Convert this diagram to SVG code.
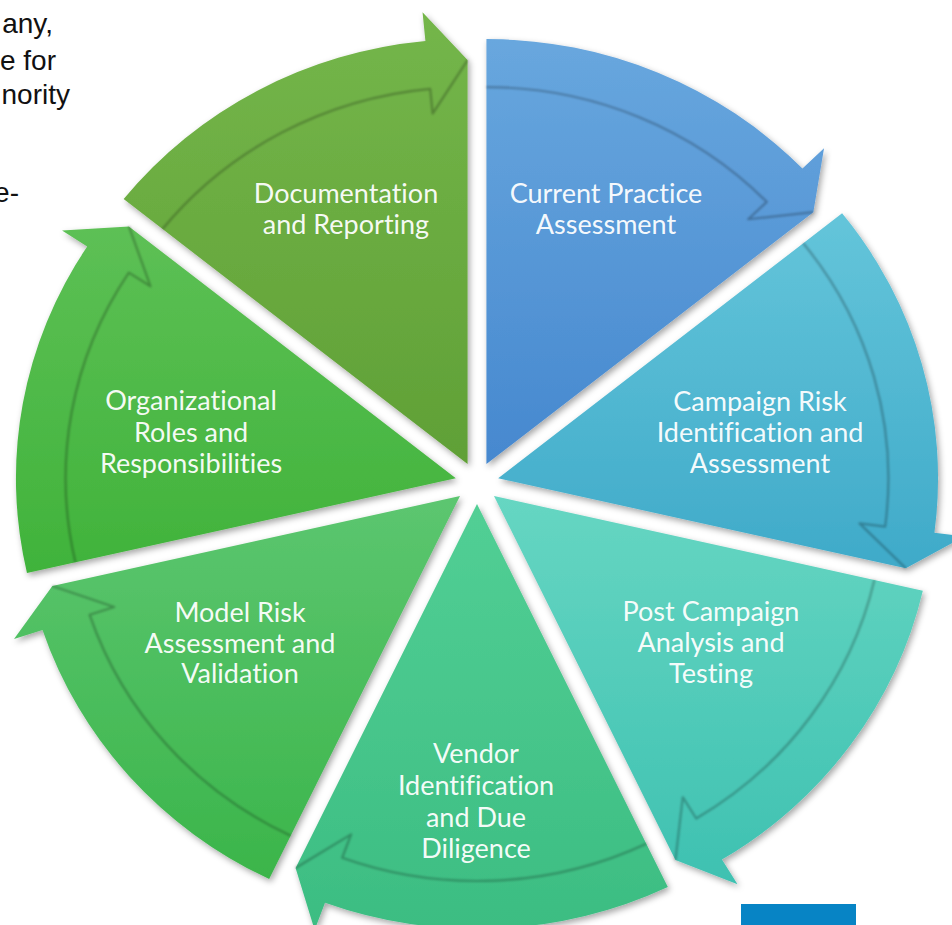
<svg xmlns="http://www.w3.org/2000/svg" width="952" height="925" viewBox="0 0 952 925">
  <defs>
    <style>
      .seg { filter: url(#segShadow); }
      .edge { fill: none; stroke: #000; stroke-opacity: 0.26; stroke-width: 2.2; stroke-linejoin: round; filter: url(#edgeBlur); }
      .label { font-family: Lato, "Open Sans", "Liberation Sans", sans-serif; font-size: 27px; fill: #ffffff; fill-opacity: 0.96; text-anchor: middle; font-variant-ligatures: none; font-feature-settings: "liga" 0, "clig" 0; }
      .side { font-family: "Liberation Sans", Arial, sans-serif; font-size: 28px; fill: #111111; text-anchor: end; }
    </style>
    <filter id="segShadow" x="-20%" y="-20%" width="140%" height="140%">
      <feDropShadow dx="2" dy="3" stdDeviation="3" flood-color="#000" flood-opacity="0.35"/>
    </filter>
    <filter id="edgeBlur" x="-10%" y="-10%" width="120%" height="120%">
      <feGaussianBlur stdDeviation="0.9"/>
    </filter>
    <linearGradient id="gDoc" x1="0" y1="0" x2="0" y2="1">
      <stop offset="0" stop-color="#74b64a"/><stop offset="1" stop-color="#60a036"/>
    </linearGradient>
    <linearGradient id="gCur" x1="0" y1="0" x2="0" y2="1">
      <stop offset="0" stop-color="#68a7de"/><stop offset="1" stop-color="#4688cf"/>
    </linearGradient>
    <linearGradient id="gCam" x1="0" y1="0" x2="0" y2="1">
      <stop offset="0" stop-color="#64c5da"/><stop offset="1" stop-color="#3faac9"/>
    </linearGradient>
    <linearGradient id="gPost" x1="0" y1="0" x2="0" y2="1">
      <stop offset="0" stop-color="#66d6c2"/><stop offset="1" stop-color="#3ec1b1"/>
    </linearGradient>
    <linearGradient id="gVen" x1="0" y1="0" x2="0" y2="1">
      <stop offset="0" stop-color="#52cf95"/><stop offset="1" stop-color="#3cbd82"/>
    </linearGradient>
    <linearGradient id="gMod" x1="0" y1="0" x2="0" y2="1">
      <stop offset="0" stop-color="#5cc670"/><stop offset="1" stop-color="#3bb54a"/>
    </linearGradient>
    <linearGradient id="gOrg" x1="0" y1="0" x2="0" y2="1">
      <stop offset="0" stop-color="#5dc055"/><stop offset="1" stop-color="#40b33b"/>
    </linearGradient>
  </defs>

  <rect width="952" height="925" fill="#ffffff"/>

  <!-- cropped paragraph on the left -->
  <g id="side-text">
    <text class="side" x="53" y="33">any,</text>
    <text class="side" x="56" y="70">e for</text>
    <text class="side" x="70" y="104">nority</text>
    <text class="side" x="19" y="202">e-</text>
  </g>

  <!-- seven exploded wedges, each ending in a clockwise arrow head -->
  <g id="wheel" transform="translate(477,483) scale(1.035,1)">
    <g id="seg-documentation">
      <path class="seg" fill="url(#gDoc)" d="M-9.11,-18.92 L-341.39,-283.90 A425,425 0 0 1 -49.85,-441.97 L-52.63,-470.83 L-9.11,-422.92 Z"/>
      <path class="edge" d="M-303.86,-253.98 A377,377 0 0 1 -45.24,-394.19 L-42.85,-369.30 L-9.11,-422.92"/>
    </g>
    <g id="seg-current">
      <path class="seg" fill="url(#gCur)" d="M9.11,-18.92 L9.11,-443.92 A425,425 0 0 1 314.46,-314.53 L335.30,-334.70 L324.97,-270.81 Z"/>
      <path class="edge" d="M9.11,-395.92 A377,377 0 0 1 279.97,-281.14 L262.01,-263.75 L324.97,-270.81"/>
    </g>
    <g id="seg-campaign">
      <path class="seg" fill="url(#gCam)" d="M20.47,-4.67 L352.75,-269.65 A425,425 0 0 1 441.97,49.75 L470.73,53.46 L414.34,85.23 Z"/>
      <path class="edge" d="M315.22,-239.73 A377,377 0 0 1 394.37,43.60 L369.57,40.40 L414.34,85.23"/>
    </g>
    <g id="seg-post">
      <path class="seg" fill="url(#gPost)" d="M16.42,13.09 L430.77,107.66 A425,425 0 0 1 236.67,376.57 L251.70,401.37 L191.71,377.08 Z"/>
      <path class="edge" d="M383.97,96.98 A377,377 0 0 1 211.80,335.52 L198.84,314.13 L191.71,377.08"/>
    </g>
    <g id="seg-vendor">
      <path class="seg" fill="url(#gVen)" d="M0,21 L184.40,403.91 A425,425 0 0 1 -146.85,419.83 L-156.87,447.04 L-175.29,384.99 Z"/>
      <path class="edge" d="M163.57,360.67 A377,377 0 0 1 -130.26,374.78 L-121.63,351.32 L-175.29,384.99"/>
    </g>
    <g id="seg-model">
      <path class="seg" fill="url(#gMod)" d="M-16.42,13.09 L-200.82,396.00 A425,425 0 0 1 -419.79,146.94 L-447.32,156.07 L-410.29,102.99 Z"/>
      <path class="edge" d="M-179.99,352.76 A377,377 0 0 1 -374.23,131.82 L-350.51,123.95 L-410.29,102.99"/>
    </g>
    <g id="seg-organizational">
      <path class="seg" fill="url(#gOrg)" d="M-20.47,-4.67 L-434.82,89.90 A425,425 0 0 1 -376.62,-236.58 L-400.92,-252.41 L-336.33,-256.56 Z"/>
      <path class="edge" d="M-388.02,79.22 A377,377 0 0 1 -336.40,-210.39 L-315.45,-196.75 L-336.33,-256.56"/>
    </g>
  </g>

  <!-- wedge labels -->
  <g id="labels">
    <text class="label" x="346" y="203">Documentation</text>
    <text class="label" x="346" y="234">and Reporting</text>

    <text class="label" x="606" y="203">Current Practice</text>
    <text class="label" x="606" y="234">Assessment</text>

    <text class="label" x="760" y="411">Campaign Risk</text>
    <text class="label" x="760" y="442">Identification and</text>
    <text class="label" x="760" y="473">Assessment</text>

    <text class="label" x="711" y="621">Post Campaign</text>
    <text class="label" x="711" y="652">Analysis and</text>
    <text class="label" x="711" y="683">Testing</text>

    <text class="label" x="476" y="763">Vendor</text>
    <text class="label" x="476" y="795">Identification</text>
    <text class="label" x="476" y="827">and Due</text>
    <text class="label" x="476" y="858">Diligence</text>

    <text class="label" x="240" y="622">Model Risk</text>
    <text class="label" x="240" y="653">Assessment and</text>
    <text class="label" x="240" y="683">Validation</text>

    <text class="label" x="191" y="410">Organizational</text>
    <text class="label" x="191" y="442">Roles and</text>
    <text class="label" x="191" y="473">Responsibilities</text>
  </g>

  <rect id="corner-block" x="741" y="904" width="115" height="21" fill="#0784c5"/>
</svg>
